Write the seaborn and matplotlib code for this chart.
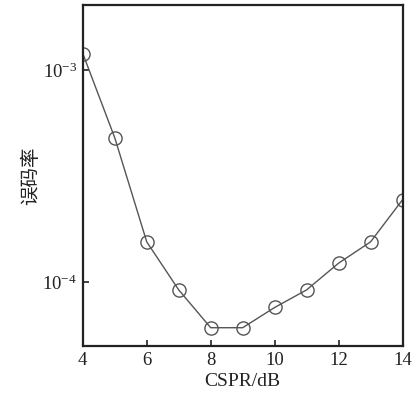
import numpy as np
import matplotlib
matplotlib.use('Agg')
import matplotlib.pyplot as plt
import seaborn as sns
from matplotlib.ticker import LogLocator, NullLocator

# Data
cspr_db = [4, 5, 6, 7, 8, 9, 10, 11, 12, 13, 14]
ber = [1.2e-3, 4.8e-4, 1.55e-4, 9.2e-5, 6.1e-5, 6.1e-5, 7.6e-5, 9.2e-5, 1.23e-4, 1.55e-4, 2.45e-4]
x_ticks = [4, 6, 8, 10, 12, 14]

sns.set_style('ticks')
plt.rcParams['font.family'] = ['Liberation Serif', 'Noto Sans CJK SC']
plt.rcParams['mathtext.fontset'] = 'custom'
plt.rcParams['mathtext.rm'] = 'Liberation Serif'
plt.rcParams['mathtext.it'] = 'Liberation Serif:italic'

fig = plt.figure(figsize=(4.12, 3.95), dpi=100)
ax = fig.add_axes([0.201, 0.124, 0.776, 0.863])

sns.lineplot(x=cspr_db, y=ber, ax=ax, color='#555555', linewidth=1.0,
             marker='o', markersize=9.5, markerfacecolor='none',
             markeredgecolor='#555555', markeredgewidth=1.0)

ax.set_yscale('log')
ax.set_xlim(4, 14)
ax.set_ylim(5.0e-5, 2.03e-3)
ax.set_xticks(x_ticks)
ax.yaxis.set_major_locator(LogLocator(base=10))
ax.yaxis.set_minor_locator(NullLocator())

for s in ax.spines.values():
    s.set_linewidth(1.6)
    s.set_color('#222222')
ax.tick_params(direction='in', length=4, width=1.2, labelsize=13.5, colors='#222222', pad=4)

ax.set_xlabel('CSPR/dB', fontsize=14, color='#222222', labelpad=3)
ax.set_ylabel('误码率', fontsize=14, color='#222222',
              family=['Noto Sans CJK SC', 'DejaVu Sans'], labelpad=1)

plt.savefig('out.png', dpi=100)
